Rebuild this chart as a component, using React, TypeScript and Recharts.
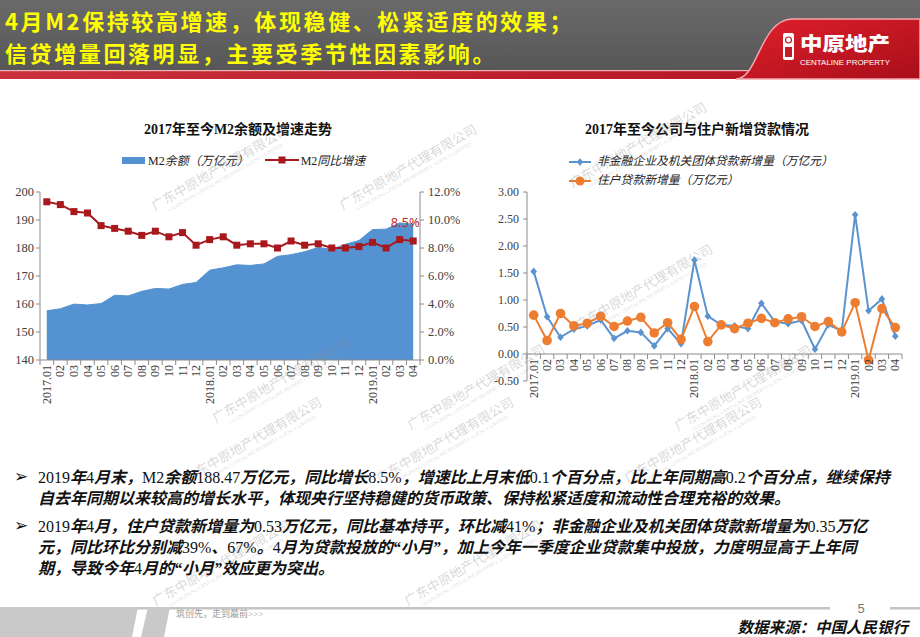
import React from 'react';
import { ComposedChart, Area, Line, XAxis, YAxis, ReferenceLine, LabelList } from 'recharts';

// 月份（2017.01 - 2019.04）
const months = ['2017.01', '02', '03', '04', '05', '06', '07', '08', '09', '10', '11', '12',
  '2018.01', '02', '03', '04', '05', '06', '07', '08', '09', '10', '11', '12',
  '2019.01', '02', '03', '04'];

// M2余额（万亿元）
const m2Balance = [157.59, 158.29, 159.96, 159.66, 160.14, 163.13, 162.9, 164.52, 165.57, 165.34, 167.0, 167.68,
  172.08, 172.91, 173.99, 173.77, 174.31, 177.02, 177.62, 178.68, 180.17, 179.56, 181.32, 182.67,
  186.59, 186.74, 188.94, 188.47];

// M2同比增速（%）
const m2Growth = [11.3, 11.1, 10.6, 10.5, 9.6, 9.4, 9.2, 8.9, 9.2, 8.8, 9.1, 8.2,
  8.6, 8.8, 8.2, 8.3, 8.3, 8.0, 8.5, 8.2, 8.3, 8.0, 8.0, 8.1,
  8.4, 8.0, 8.6, 8.5];

// 非金融企业及机关团体贷款新增量（万亿元）
const corpLoans = [1.53, 0.69, 0.31, 0.46, 0.52, 0.63, 0.29, 0.43, 0.40, 0.15, 0.47, 0.19,
  1.74, 0.70, 0.54, 0.52, 0.47, 0.94, 0.60, 0.56, 0.62, 0.09, 0.54, 0.43,
  2.58, 0.80, 1.02, 0.33];

// 住户贷款新增量（万亿元）
const householdLoans = [0.72, 0.25, 0.75, 0.52, 0.57, 0.70, 0.51, 0.61, 0.68, 0.39, 0.58, 0.27,
  0.88, 0.23, 0.54, 0.47, 0.57, 0.66, 0.58, 0.65, 0.69, 0.51, 0.60, 0.41,
  0.95, -0.11, 0.84, 0.49];

const m2Ticks = [140, 150, 160, 170, 180, 190, 200];
const growthTicks = [0, 2, 4, 6, 8, 10, 12];
const loanTicks = [-0.5, 0, 0.5, 1, 1.5, 2, 2.5, 3];

const leftData = months.map((m, i) => ({ month: m, m2: m2Balance[i], growth: m2Growth[i] }));
const rightData = months.map((m, i) => ({ month: m, corp: corpLoans[i], household: householdLoans[i] }));

const SERIF = '"Liberation Serif", "Noto Sans CJK SC", serif';
const AXIS = '#8c8c8c';
const TICK_TEXT = '#404040';
const BLUE_AREA = '#5592D2';
const RED = '#A8191E';
const LINE_BLUE = '#5B93CF';
const ORANGE = '#ED7D31';

// plot widths -> half a category slot, so points sit mid-slot like Excel
const L_BAND = 380 / months.length;
const R_BAND = 375 / months.length;

// right chart: zero line sits above the plot bottom
const R_PLOT_H = 189;
const R_SHIFT = R_PLOT_H * (0 - loanTicks[0]) / (loanTicks[loanTicks.length - 1] - loanTicks[0]);

function MonthTick(props: any) {
  const { x, y, payload, index, shift = 0, band } = props;
  const y0 = y - shift;
  const last = index === months.length - 1;
  return (
    <g>
      <line x1={x - band / 2} x2={x - band / 2} y1={y0 - 2} y2={y0 + 3} stroke={AXIS} />
      {last && <line x1={x + band / 2} x2={x + band / 2} y1={y0 - 2} y2={y0 + 3} stroke={AXIS} />}
      <text
        x={x}
        y={y0 + 3}
        transform={`rotate(-90 ${x} ${y0 + 3})`}
        textAnchor="end"
        dominantBaseline="central"
        fontSize={12}
        fontFamily={SERIF}
        fill={TICK_TEXT}
      >
        {payload.value}
      </text>
    </g>
  );
}

const SquareDot = (p: any) => (
  <rect key={`sq-${p.index}`} x={p.cx - 3.5} y={p.cy - 3.5} width={7} height={7} fill={RED} />
);

const DiamondDot = (p: any) => (
  <polygon
    key={`dm-${p.index}`}
    points={`${p.cx},${p.cy - 3.8} ${p.cx + 3.3},${p.cy} ${p.cx},${p.cy + 3.8} ${p.cx - 3.3},${p.cy}`}
    fill={LINE_BLUE}
  />
);

const CircleDot = (p: any) => (
  <circle key={`cc-${p.index}`} cx={p.cx} cy={p.cy} r={4.8} fill={ORANGE} />
);

const lastLabel = (p: any) =>
  p.index === months.length - 1 ? (
    <text x={p.x - 8} y={p.y - 14} textAnchor="middle" fill="#B8302A" fontSize={13} fontFamily="Noto Sans">
      {Number(p.value).toFixed(1)}%
    </text>
  ) : null;

// 中文粗斜体、数字常规
function Mixed({ text }: { text: string }) {
  const parts = text.split(/([\x20-\x7E]+)/).filter(Boolean);
  return (
    <>
      {parts.map((s, i) =>
        /^[\x20-\x7E]+$/.test(s) ? (
          <span key={i} style={{ fontWeight: 400, fontStyle: 'normal' }}>{s}</span>
        ) : (
          <span key={i}>{s}</span>
        )
      )}
    </>
  );
}

const bullet1 = [
  '2019年4月末，M2余额188.47万亿元，同比增长8.5%，增速比上月末低0.1个百分点，比上年同期高0.2个百分点，继续保持',
  '自去年同期以来较高的增长水平，体现央行坚持稳健的货币政策、保持松紧适度和流动性合理充裕的效果。',
];
const bullet2 = [
  '2019年4月，住户贷款新增量为0.53万亿元，同比基本持平，环比减41%；非金融企业及机关团体贷款新增量为0.35万亿',
  '元，同比环比分别减39%、67%。4月为贷款投放的“小月”，加上今年一季度企业贷款集中投放，力度明显高于上年同',
  '期，导致今年4月的“小月”效应更为突出。',
];

const watermarks = [
  [222, 173], [410, 172], [640, 150], [646, 292], [283, 385], [478, 392], [745, 393],
  [255, 445], [447, 445], [695, 445], [223, 568], [475, 568],
];

function Bullet({ lines, top }: { lines: string[]; top: number }) {
  return (
    <div style={{ position: 'absolute', left: 14, top, fontFamily: SERIF, fontSize: 16, lineHeight: '21px', color: '#111' }}>
      <span style={{ position: 'absolute', left: 0, top: -1, fontFamily: '"DejaVu Sans"', fontSize: 17, fontWeight: 700 }}>➢</span>
      {lines.map((l, i) => (
        <div key={i} style={{ marginLeft: 24, whiteSpace: 'nowrap', fontWeight: 700, fontStyle: 'italic' }}>
          <Mixed text={l} />
        </div>
      ))}
    </div>
  );
}

const titleStyle: React.CSSProperties = {
  position: 'absolute',
  left: 5,
  color: '#FFFF00',
  fontFamily: '"Noto Sans CJK SC"',
  fontWeight: 700,
  fontSize: 22,
  lineHeight: '22px',
  whiteSpace: 'nowrap',
  letterSpacing: 2.6,
};

export default function App() {
  return (
    <div style={{ position: 'absolute', left: 0, top: 0, width: 920, height: 637, background: '#fff', overflow: 'hidden' }}>
      {/* header */}
      <svg width={920} height={82} style={{ position: 'absolute', left: 0, top: 0 }}>
        <defs>
          <linearGradient id="hg" x1="0" y1="0" x2="0" y2="1">
            <stop offset="0" stopColor="#6a6a6a" />
            <stop offset="1" stopColor="#575757" />
          </linearGradient>
          <linearGradient id="rg" x1="0" y1="0" x2="1" y2="0">
            <stop offset="0" stopColor="#c8313c" />
            <stop offset="1" stopColor="#b3121f" />
          </linearGradient>
          <linearGradient id="pg" x1="0" y1="0" x2="1" y2="1">
            <stop offset="0" stopColor="#e0202c" />
            <stop offset="1" stopColor="#a80f1a" />
          </linearGradient>
        </defs>
        <rect x={0} y={0} width={920} height={70} fill="url(#hg)" />
        <rect x={0} y={70} width={920} height={9} fill="url(#rg)" />
        <rect x={0} y={70} width={920} height={1.2} fill="#f0b5ba" />
        <path d="M 736 79 C 758 79, 760 20, 792 19 L 920 19 L 920 79 Z" fill="url(#pg)" stroke="#f3a6ad" strokeWidth={1.5} />
        <rect x={783} y={33} width={11} height={27} rx={2} fill="#fff" />
        <circle cx={788.5} cy={40} r={3} fill="none" stroke="#c41a26" strokeWidth={1.2} />
        <rect x={785} y={47} width={7} height={10} fill="#c41a26" />
        <text x={800} y={51} fill="#fff" fontSize={19} fontWeight={900} fontFamily='"Noto Sans CJK SC"' textLength={90} lengthAdjust="spacingAndGlyphs">中原地产</text>
        <text x={800} y={65} fill="#fff" fontSize={7.5} fontFamily='"Liberation Sans"' textLength={90} lengthAdjust="spacingAndGlyphs">CENTALINE PROPERTY</text>
      </svg>
      <div style={{ ...titleStyle, top: 9 }}>4月M2保持较高增速，体现稳健、松紧适度的效果；</div>
      <div style={{ ...titleStyle, top: 41 }}>信贷增量回落明显，主要受季节性因素影响。</div>

      {/* left chart */}
      <div style={{ position: 'absolute', left: 0, top: 118, width: 476, textAlign: 'center', fontFamily: SERIF, fontWeight: 700, fontSize: 14, color: '#111' }}>
        2017年至今M2余额及增速走势
      </div>
      <div style={{ position: 'absolute', left: 122, top: 151, fontFamily: SERIF, fontSize: 12, color: '#222', whiteSpace: 'nowrap', display: 'flex', alignItems: 'center', height: 18 }}>
        <span style={{ display: 'inline-block', width: 23, height: 7, background: BLUE_AREA, marginRight: 3 }} />
        <span>M2<i>余额（万亿元）</i></span>
        <svg width={34} height={10} style={{ marginLeft: 16, marginRight: 2 }}>
          <line x1={0} x2={34} y1={5} y2={5} stroke={RED} strokeWidth={2} />
          <rect x={13.5} y={1.5} width={7} height={7} fill={RED} />
        </svg>
        <span>M2<i>同比增速</i></span>
      </div>
      <div style={{ position: 'absolute', left: 0, top: 180 }}>
        <ComposedChart width={460} height={232} data={leftData} margin={{ top: 12, right: 4, bottom: 0, left: 0 }}>
          <XAxis
            dataKey="month"
            interval={0}
            height={52}
            padding={{ left: L_BAND / 2, right: L_BAND / 2 }}
            tickLine={false}
            tickSize={0}
            tickMargin={2}
            axisLine={{ stroke: AXIS }}
            tick={(p: any) => <MonthTick {...p} band={L_BAND} />}
          />
          <YAxis
            yAxisId="m2"
            domain={[140, 200]}
            ticks={m2Ticks}
            width={40}
            axisLine={{ stroke: AXIS }}
            tickLine={{ stroke: AXIS }}
            tickSize={4}
            tick={{ fontSize: 12.5, fill: TICK_TEXT, fontFamily: SERIF }}
          />
          <YAxis
            yAxisId="growth"
            orientation="right"
            domain={[0, 12]}
            ticks={growthTicks}
            width={36}
            axisLine={{ stroke: AXIS }}
            tickLine={{ stroke: AXIS }}
            tickSize={4}
            tickMargin={4}
            tickFormatter={(v: number) => `${v.toFixed(1)}%`}
            tick={{ fontSize: 12.5, fill: TICK_TEXT, fontFamily: SERIF, textAnchor: 'start' }}
          />
          <Area
            yAxisId="m2"
            dataKey="m2"
            type="linear"
            fill={BLUE_AREA}
            fillOpacity={1}
            stroke={BLUE_AREA}
            strokeWidth={1}
            isAnimationActive={false}
          />
          <Line
            yAxisId="growth"
            dataKey="growth"
            type="linear"
            stroke={RED}
            strokeWidth={2}
            dot={SquareDot}
            activeDot={false}
            isAnimationActive={false}
          >
            <LabelList dataKey="growth" content={lastLabel} />
          </Line>
        </ComposedChart>
      </div>

      {/* right chart */}
      <div style={{ position: 'absolute', left: 460, top: 118, width: 474, textAlign: 'center', fontFamily: SERIF, fontWeight: 700, fontSize: 14, color: '#111' }}>
        2017年至今公司与住户新增贷款情况
      </div>
      <div style={{ position: 'absolute', left: 569, top: 152, fontFamily: SERIF, fontSize: 11.8, color: '#222', whiteSpace: 'nowrap', lineHeight: '19px' }}>
        <div style={{ display: 'flex', alignItems: 'center' }}>
          <svg width={22} height={10} style={{ marginRight: 6 }}>
            <line x1={0} x2={22} y1={5} y2={5} stroke={LINE_BLUE} strokeWidth={2} />
            <polygon points="11,1.2 14.3,5 11,8.8 7.7,5" fill={LINE_BLUE} />
          </svg>
          <i>非金融企业及机关团体贷款新增量（万亿元）</i>
        </div>
        <div style={{ display: 'flex', alignItems: 'center' }}>
          <svg width={22} height={10} style={{ marginRight: 6 }}>
            <line x1={0} x2={22} y1={5} y2={5} stroke={ORANGE} strokeWidth={2} />
            <circle cx={11} cy={5} r={4.5} fill={ORANGE} />
          </svg>
          <i>住户贷款新增量（万亿元）</i>
        </div>
      </div>
      <div style={{ position: 'absolute', left: 460, top: 180 }}>
        <ComposedChart width={460} height={231} data={rightData} margin={{ top: 12, right: 18, bottom: 0, left: 27 }}>
          <XAxis
            dataKey="month"
            interval={0}
            height={30}
            padding={{ left: R_BAND / 2, right: R_BAND / 2 }}
            axisLine={false}
            tickLine={false}
            tickSize={0}
            tickMargin={2}
            tick={(p: any) => <MonthTick {...p} shift={R_SHIFT} band={R_BAND} />}
          />
          <YAxis
            domain={[loanTicks[0], loanTicks[loanTicks.length - 1]]}
            ticks={loanTicks}
            width={40}
            axisLine={{ stroke: AXIS }}
            tickLine={{ stroke: AXIS }}
            tickSize={4}
            tickMargin={4}
            tickFormatter={(v: number) => v.toFixed(2)}
            tick={{ fontSize: 12, fill: TICK_TEXT, fontFamily: SERIF }}
          />
          <ReferenceLine y={0} stroke={AXIS} />
          <Line
            dataKey="corp"
            type="linear"
            stroke={LINE_BLUE}
            strokeWidth={2}
            dot={DiamondDot}
            activeDot={false}
            isAnimationActive={false}
          />
          <Line
            dataKey="household"
            type="linear"
            stroke={ORANGE}
            strokeWidth={2}
            dot={CircleDot}
            activeDot={false}
            isAnimationActive={false}
          />
        </ComposedChart>
      </div>

      {/* watermarks */}
      {watermarks.map(([x, y], i) => (
        <div
          key={i}
          style={{
            position: 'absolute',
            left: x - 80,
            top: y - 12,
            width: 160,
            textAlign: 'center',
            transform: 'rotate(-30deg)',
            color: 'rgba(140,140,140,0.35)',
            fontFamily: SERIF,
            pointerEvents: 'none',
            whiteSpace: 'nowrap',
          }}
        >
          <div style={{ fontSize: 13, lineHeight: '14px' }}>广东中原地产代理有限公司</div>
          <div style={{ fontSize: 5, lineHeight: '7px' }}>GUANGDONG CENTALINE PROPERTY AGENCY LIMITED</div>
        </div>
      ))}

      {/* text */}
      <Bullet lines={bullet1} top={467} />
      <Bullet lines={bullet2} top={516} />

      {/* footer */}
      <svg width={920} height={40} style={{ position: 'absolute', left: 0, top: 597 }}>
        <rect x={0} y={10} width={830} height={2.5} fill="#c4c4c4" />
        <rect x={890} y={10} width={30} height={2.5} fill="#c4c4c4" />
        <polygon points="0,10 138,10 132,40 0,40" fill="#c9c9c9" />
        <polygon points="148,10 170,10 164,40 141,40" fill="#c9c9c9" />
        <text x={176} y={20} fontSize={9} fill="#9a9a9a" fontFamily={SERIF}>筑创先，走到最前&gt;&gt;&gt;</text>
        <text x={861} y={16} fontSize={13} fill="#777" fontFamily='"Liberation Sans"' textAnchor="middle">5</text>
        <text x={908} y={36} fontSize={15.5} fill="#111" fontWeight={700} fontStyle="italic" fontFamily='"Noto Sans CJK SC"' textAnchor="end">数据来源：中国人民银行</text>
      </svg>
    </div>
  );
}
